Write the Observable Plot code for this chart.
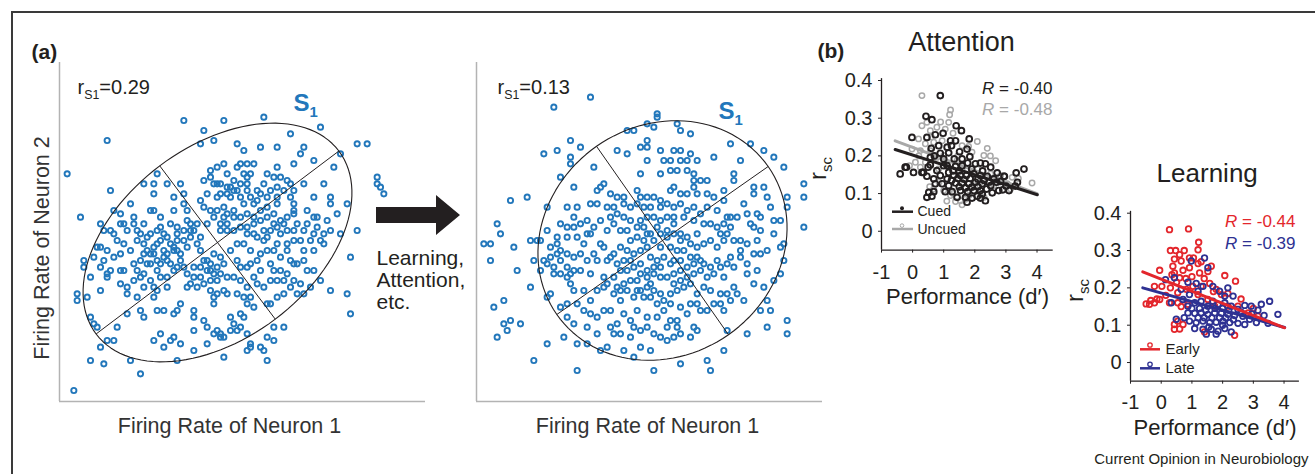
<!DOCTYPE html>
<html><head><meta charset="utf-8">
<script src="https://cdn.jsdelivr.net/npm/d3@7"></script>
<script src="https://cdn.jsdelivr.net/npm/@observablehq/plot@0.6"></script>
<style>
html,body{margin:0;padding:0;background:#fff;}
#fig{position:relative;width:1315px;height:474px;overflow:hidden;background:#fff;}
#fig svg{position:absolute;left:0;top:0;overflow:visible;}
#frame{position:absolute;left:11px;top:11px;width:1400px;height:600px;border-top:2px solid #3a3a3a;border-left:2px solid #3a3a3a;}
</style></head><body><div id="fig"><div id="frame"></div></div>
<script>
const INK = "#231f20";
const BLUE = "#2277bb";
const GRAY = "#a8a8a8";
const RED = "#e3262c";
const NAVY = "#2e3192";
const FONT = "'Liberation Sans', Arial, Helvetica, sans-serif";

// ---- Panel (a): firing rates of neuron 1 / neuron 2 (arbitrary units)
const beforeRates = [[55,93],[67,93],[79,94],[61,90],[96,91],[32,87],[60,86],[64,87],[87,89],[107,86],[110,86],[20,77],[113,76],[113,74],[114,73],[115,71],[24,64],[107,60],[102,59],[105,52],[104,41],[105,35],[99,42],[96,45],[23,41],[26,40],[23,39],[27,34],[28,32],[29,31],[30,25],[27,21],[31,20],[39,21],[42,17],[22,12],[32,27],[34,27],[53,21],[58,24],[67,22],[74,24],[75,25],[75,26],[78,25],[79,24],[80,21],[82,27],[85,31],[82,31],[80,28],[74,29],
[47,77],[43,74],[46,74],[50,74],[46,71],[54,74],[55,71],[33,72],[39,68],[52,70],[55,68],[34,66],[36,65],[45,66],[46,66],[48,64],[52,66],[56,66],[30,62],[36,62],[37,62],[40,64],[40,62],[45,59],[48,61],[51,62],[53,61],[56,63],[31,60],[33,60],[34,59],[41,60],[42,59],[49,59],[53,59],[57,60],[58,60],[29,55],[30,55],[32,54],[37,56],[41,57],[43,56],[47,56],[49,54],[52,55],[55,57],[57,58],[25,51],[25,49],[30,49],[32,47],[33,48],[36,48],[37,48],[41,48],[44,50],[45,53],[46,53],[49,52],[50,53],[52,54],[54,53],[56,55],[27,46],[30,42],[32,46],[36,44],[38,43],[40,45],[42,46],[43,47],[45,45],[47,48],[48,46],[50,46],[52,48],[53,49],[55,49],[58,49],[60,49],[62,51],[63,48],[38,41],[41,40],[43,43],[46,43],[47,42],[50,43],[56,43],[59,43],[63,45],[65,45],[38,35],[42,36],[43,34],[46,40],[47,36],[49,36],[52,35],[53,36],[54,38],[58,36],[58,34],[58,30],[61,33],[62,31],[64,38],[65,30],[66,29],[69,34],[70,32],[67,28],[66,28],[69,30],[72,35],[73,34],[74,38],[75,40],[76,37],[74,43],[73,40],[71,41],[68,41],[67,42],[65,41],[64,40],[63,42],[35,31],[46,27],[48,29],[49,25],[51,27],[52,28],[54,26],[62,26],[64,29],[71,30],[72,31],
[71,86],[73,84],[78,85],[83,85],[91,85],[90,83],[88,80],[94,81],[100,79],[102,83],[72,80],[74,80],[76,80],[83,79],[80,77],[75,77],[74,76],[73,77],[70,75],[71,79],[74,74],[72,74],[68,77],[67,80],[65,79],[63,78],[61,75],[63,76],[64,74],[65,74],[66,74],[69,73],[68,71],[69,70],[71,72],[73,68],[77,69],[77,72],[76,68],[80,70],[83,73],[86,75],[87,74],[88,72],[91,74],[97,74],[94,70],[99,70],[99,68],[104,68],[101,65],[94,64],[95,64],[92,66],[88,66],[88,65],[88,68],[87,70],[83,70],[83,68],[82,65],[80,64],[78,63],[76,62],[74,61],[70,64],[68,65],[67,67],[65,70],[62,71],[60,69],[61,67],[64,64],[67,64],[66,60],[68,60],[70,60],[72,61],[74,59],[76,59],[77,58],[79,57],[80,58],[81,60],[84,59],[86,60],[88,60],[89,62],[91,60],[94,59],[96,57],[97,59],[99,60],[93,57],[94,54],[91,54],[89,50],[87,51],[86,56],[83,56],[82,54],[80,54],[78,53],[77,51],[75,50],[74,49],[72,49],[71,51],[69,54],[71,56],[73,56],[75,54],[81,50],[82,48],[84,48],[83,45],[85,45],[81,45],[88,50],[91,51],[92,48],[94,48],[93,43],[91,41],[89,41],[87,43],[85,41],[83,40],[81,38],[80,38],[98,63],[97,56],[95,61],
[53,54],[54,51],[51,50],[47,51],[42,51],[40,50],[44,58],[47,60],[59,56],[60,54],[61,51],[62,48],[64,47],[66,47],[68,46],[70,46],[72,45],
[48,57],[50,58],[51,56],[53,57],[46,55],[44,54],[55,60],[57,62],[59,62],[60,58],[50,51],[48,50],[45,50],[43,53],[39,54],[36,53],[34,52],[31,51],[28,52],[35,57],[38,60],[43,62],[56,47],[58,46],[60,46],[57,44],[61,44],[63,50],[65,49],[67,50],[66,52],[64,53],
[66,71],[68,73],[70,72],[72,70],[74,72],[75,70],[78,71],[79,74],[81,72],[82,76],[84,76],[85,72],[78,66],[80,67],[82,62],[84,63],[86,64],[74,65],[72,64],[70,66],[76,64],[79,60],[83,61],[85,62],[68,62],[66,62],[62,62],[63,66],[65,66],[88,57],[90,57],[92,62],[86,54],[84,52],[78,48],[76,46],[86,47],[88,45],[90,44],[79,43],[77,44]];

const afterRates = [[45,109],[34,106],[65,104],[65,103],[56,99],[58,99],[62,101],[64,100],[71,101],[72,99],[75,98],[62,96],[39,96],[35,93],[31,92],[42,94],[39,91],[39,89],[46,88],[36,85],[40,82],[21,78],[26,79],[17,71],[18,68],[13,65],[15,65],[22,64],[15,60],[23,57],[27,52],[19,48],[16,46],[21,42],[19,41],[20,39],[24,41],[17,37],[28,30],[32,35],[37,37],[41,35],[44,35],[41,27],[64,27],[72,29],[80,30],[81,27],[85,33],[86,39],[92,38],[98,40],[99,45],[104,42],[104,38],[96,45],[109,83],[109,79],[109,70],[87,95],[93,95],[97,93],[100,91],[103,88],[90,90],[82,91],[104,79],[104,76],[103,65],[102,64],[100,54],[102,56],[103,60],[100,68],[102,72],
[53,93],[56,92],[60,94],[62,94],[66,93],[70,93],[72,93],[75,92],[67,90],[69,90],[72,90],[74,90],[77,90],[60,86],[62,90],[66,86],[69,87],[71,87],[74,87],[76,86],[76,84],[78,84],[80,84],[88,86],[88,84],[94,82],[97,82],[94,80],[98,79],[91,77],[99,76],[95,74],[92,74],[87,73],[85,78],[85,81],[82,79],[80,80],[77,80],[76,82],[74,80],[72,80],[70,82],[69,81],[66,78],[64,79],[62,79],[60,79],[59,81],[55,79],[53,79],[51,80],[49,83],[48,82],[47,81],[45,77],[47,77],[50,76],[52,76],[55,77],[57,76],[59,77],[61,76],[63,76],[66,76],[68,77],[70,76],[72,77],[74,75],[76,76],[80,76],[83,75],[86,73],[89,73],[93,71],[96,73],[100,72],[38,76],[41,76],[40,73],[32,76],[44,68],[45,68],[43,65],[41,67],[38,67],[35,67],[35,65],[33,64],[30,66],[27,66],[29,66],[32,69],[31,60],[32,59],[33,61],[35,62],[36,63],[36,60],[38,58],[39,56],[40,57],[42,57],[45,56],[47,60],[50,60],[48,65],[50,69],[52,71],[54,69],[56,69],[59,70],[61,70],[62,68],[65,70],[68,69],[70,71],[72,68],[74,67],[77,68],[79,71],[81,71],[83,70],[85,71],[87,70],[90,66],[88,66],[87,61],[90,61],[92,59],[94,62],[96,62],[98,63],[95,57],[92,56],[88,58],[86,59],[84,58],[81,58],[79,59],[77,61],[75,61],[73,63],[71,63],[69,64],[66,64],[64,66],[62,64],[60,63],[58,62],[56,63],[54,64],[52,62],[51,61],[49,64],[49,55],[50,53],[52,55],[54,57],[56,57],[58,58],[60,59],[62,57],[64,58],[66,58],[68,55],[70,56],[72,57],[74,58],[76,56],[78,57],[80,55],[82,56],[85,55],[88,52],[91,48],[97,52],[94,53],[98,48],[86,50],[84,50],[81,51],[79,52],[77,50],[75,53],[73,52],[71,51],[69,50],[66,50],[64,51],[62,52],[60,51],[58,49],[56,51],[54,51],[52,50],[49,52],[47,51],[45,48],[43,51],[40,51],[39,53],[38,55],[33,50],[32,49],[38,43],[40,41],[44,40],[47,38],[47,43],[49,45],[51,45],[54,48],[55,44],[57,42],[59,45],[62,43],[65,43],[67,45],[68,40],[69,42],[71,42],[71,40],[74,44],[76,40],[77,47],[80,45],[85,45],[52,38],[54,38],[57,37],[63,33],[53,41],[51,40],[75,37],[77,39],[63,61],[65,60],[64,56],[62,55],[60,56],[59,54],[63,53],[66,55],[70,60],[72,60],[74,55],
[57,66],[59,67],[61,66],[63,68],[66,68],[68,67],[70,68],[72,66],[75,65],[77,64],[79,65],[81,66],[83,64],[85,66],[86,68],[84,68],[60,72],[62,73],[64,73],[66,72],[68,73],[70,73],[73,73],[76,72],[78,74],[55,73],[57,72],[53,74],[51,73],[48,72],[46,70],[44,72],[42,71],[40,70],[38,70],[36,71],[55,60],[53,59],[57,60],[67,61],[69,59],[76,59],[78,60],[83,60],[90,63],[92,65],[95,66],[94,70],[96,69],[57,54],[55,53],[53,52],[59,51],[61,49],[63,49],[65,47],[67,48],[69,47],[72,46],[75,47],[78,45],[82,47],[84,47],[87,48],[89,50],[70,53],[72,54],[46,62],[44,60],[42,62],[40,61],[38,62],[36,56],[34,56],[34,58],[30,57],[28,60],[45,44],[43,45],[41,47],[38,47],[36,46],[58,40],[60,39],[62,40],[64,38],[66,37],[68,36],[70,37],[72,38],[60,34],[58,31],[55,33],[50,34],[48,33]];

// principal-axis ellipses (center, semi-axes, tilt in degrees)
const beforeShape = {cx: 65.1, cy: 56.4, a: 45.6, b: 28.8, angle: 37};
const afterShape  = {cx: 66.6, cy: 66.0, a: 38.7, b: 34.5, angle: 35};
const rS1 = ["0.29", "0.13"];

// ---- Panel (b): r_sc vs performance (d')
const dTicks = [-1, 0, 1, 2, 3, 4];
const rTicks = [0, 0.1, 0.2, 0.3, 0.4];
const attnCued = [[0.89,0.36],[0.43,0.305],[0.62,0.296],[1.40,0.28],[-0.02,0.249],[0.46,0.249],[0.73,0.256],[0.98,0.26],[1.22,0.24],[1.57,0.267],[1.82,0.245],[1.25,0.227],[0.89,0.207],[1.16,0.208],[1.51,0.211],[1.75,0.218],[1.84,0.198],[1.59,0.192],[1.34,0.192],[0.57,0.196],[-0.24,0.17],[-0.40,0.152],[0.03,0.156],[0.30,0.156],[0.57,0.176],[0.78,0.161],[1.0,0.174],[1.16,0.156],[1.38,0.172],[1.59,0.174],[1.77,0.181],[2.02,0.179],[2.18,0.181],[2.34,0.179],[2.51,0.17],[2.72,0.155],[2.94,0.146],[3.33,0.155],[3.58,0.165],[3.37,0.13],[3.1,0.108],[0.46,0.146],[0.68,0.139],[0.89,0.148],[1.11,0.139],[1.32,0.148],[1.54,0.148],[1.73,0.148],[1.97,0.152],[2.18,0.148],[2.40,0.146],[2.61,0.139],[2.83,0.132],[0.73,0.126],[0.95,0.126],[1.16,0.121],[1.38,0.128],[1.59,0.128],[1.81,0.126],[2.02,0.13],[2.24,0.126],[2.51,0.121],[2.77,0.108],[0.52,0.103],[0.68,0.105],[0.46,0.09],[0.62,0.093],[1.05,0.105],[1.27,0.105],[1.54,0.108],[1.77,0.105],[1.97,0.108],[2.18,0.108],[2.38,0.112],[2.56,0.102],[1.43,0.09],[1.70,0.09],[1.91,0.088],[2.18,0.088],[2.34,0.081],[1.75,0.077],[2.08,0.093],[2.24,0.099],[1.11,0.174],[1.0,0.192],[1.11,0.223],[1.38,0.24],[0.84,0.227],[0.35,0.156],[-0.2,0.17],[2.95,0.146],
[1.25,0.135],[1.45,0.14],[1.65,0.138],[1.85,0.14],[2.1,0.138],[2.3,0.135],[1.5,0.118],[1.7,0.115],[1.9,0.117],[2.1,0.118],[2.45,0.13],[1.3,0.16],[1.5,0.16],[1.9,0.165],[2.25,0.16],[0.6,0.22],[0.7,0.2],[0.5,0.17],[3.0,0.12],[3.3,0.12],[2.7,0.13],[2.9,0.11]];
const attnUncued = [[0.30,0.36],[1.22,0.322],[1.19,0.309],[0.46,0.289],[0.30,0.28],[0.57,0.267],[0.78,0.276],[1.05,0.271],[0.19,0.245],[0.41,0.232],[0.68,0.236],[0.95,0.24],[0.25,0.214],[-0.02,0.218],[1.59,0.227],[2.08,0.238],[2.40,0.22],[1.91,0.21],[0.78,0.196],[0.09,0.183],[-0.1,0.174],[0.41,0.183],[1.0,0.201],[2.29,0.201],[2.67,0.187],[0.68,0.112],[1.0,0.108],[1.22,0.095],[1.38,0.079],[1.54,0.081],[1.59,0.07],[1.81,0.095],[3.04,0.126],[3.84,0.128],[3.15,0.112],[0.25,0.17],[1.75,0.161],[2.08,0.165],[2.51,0.152],[2.83,0.148],[2.18,0.13],[2.61,0.121],[1.22,0.176],[0.84,0.165],[1.43,0.187],[0.57,0.214],[1.16,0.289],[0.55,0.118],[1.3,0.1],[2.0,0.12],[3.2,0.143],[1.7,0.085],[2.3,0.09],
[0.6,0.25],[0.9,0.29],[1.3,0.26],[1.8,0.225],[0.2,0.2],[1.45,0.2],[2.5,0.2],[3.4,0.14],[0.85,0.13],[1.1,0.08]];
const attnFitCued = [[-0.56,0.217],[4.01,0.097]];
const attnFitUncued = [[-0.56,0.240],[4.0,0.100]];
const attnR = ["-0.40", "-0.48"];

const learnEarly = [[0.27,0.356],[0.89,0.358],[1.22,0.322],[1.2,0.302],[0.30,0.30],[0.47,0.30],[0.60,0.289],[0.43,0.277],[0.65,0.272],[0.92,0.28],[-0.05,0.247],[0.38,0.258],[0.43,0.24],[0.71,0.247],[0.92,0.254],[1.2,0.265],[1.52,0.244],[1.25,0.24],[2.07,0.233],[2.42,0.218],[1.63,0.258],[0.6,0.227],[-0.22,0.204],[-0.38,0.156],[-0.22,0.16],[-0.05,0.169],[0.54,0.187],[0.82,0.196],[1.03,0.204],[1.30,0.204],[1.58,0.212],[1.79,0.196],[1.96,0.182],[2.17,0.185],[1.2,0.182],[0.54,0.16],[0.27,0.16],[0.43,0.102],[0.54,0.111],[0.43,0.089],[0.6,0.09],[0.71,0.102],[1.41,0.082],[2.39,0.073],[2.17,0.151],[2.5,0.151],[2.83,0.133],[3.15,0.124],[1.74,0.151],[1.52,0.169],[0.87,0.156],[-0.49,0.157],[-0.34,0.166],[-0.14,0.17],[0.02,0.204],
[0.8,0.225],[1.0,0.23],[1.4,0.225],[0.3,0.2],[0.15,0.18],[0.65,0.15],[1.05,0.28],[0.75,0.3],[1.3,0.27],[1.7,0.19],[2.6,0.17],[3.0,0.145],[0.5,0.215],[0.35,0.235]];
const learnLate = [[1.41,0.28],[0.98,0.272],[1.52,0.254],[0.87,0.215],[1.14,0.212],[1.36,0.204],[0.43,0.227],[0.14,0.222],[1.2,0.191],[1.68,0.204],[1.9,0.191],[2.17,0.2],[2.07,0.178],[2.34,0.178],[0.33,0.16],[0.71,0.169],[0.92,0.182],[1.09,0.16],[0.87,0.151],[1.30,0.164],[1.52,0.151],[1.68,0.164],[1.85,0.156],[2.07,0.16],[2.28,0.151],[2.5,0.142],[2.72,0.153],[2.93,0.151],[3.26,0.156],[3.53,0.164],[3.35,0.126],[3.8,0.129],[3.1,0.107],[3.48,0.105],[0.87,0.133],[1.09,0.132],[1.3,0.133],[1.52,0.129],[1.74,0.133],[1.96,0.132],[2.17,0.129],[2.39,0.126],[2.66,0.124],[2.88,0.116],[0.92,0.111],[1.14,0.107],[1.36,0.111],[1.58,0.107],[1.79,0.108],[2.01,0.111],[2.23,0.107],[2.5,0.105],[2.72,0.102],[1.09,0.091],[1.36,0.089],[1.63,0.089],[1.85,0.084],[2.07,0.091],[2.28,0.082],[1.47,0.076],[1.79,0.076],[0.65,0.196],[0.49,0.116],
[1.2,0.12],[1.4,0.12],[1.65,0.12],[1.9,0.12],[2.1,0.12],[2.35,0.115],[1.25,0.145],[1.45,0.14],[1.75,0.145],[2.0,0.145],[2.2,0.14],[2.6,0.135],[0.75,0.12],[1.0,0.145],[2.95,0.13],[3.15,0.14],[1.55,0.095],[2.0,0.1]];
const learnFitEarly = [[-0.6,0.243],[4.02,0.093]];
const learnFitLate = [[-0.6,0.200],[4.02,0.094]];
const learnR = ["-0.44", "-0.39"];

// ---------- helpers
const W = 1315, H = 474;
const STYLE = `background: transparent; font-family: ${FONT}; overflow: visible;`;
function label(f, s, px, py, o = {}) {
  return Plot.text([s], {text: d => d, frameAnchor: "top-left", dx: px - f.l, dy: py - f.t,
    lineAnchor: "bottom", textAnchor: "start", fill: INK, fontSize: 20, ...o});
}
function ellipsePath(s) {
  const th = s.angle * Math.PI / 180;
  return d3.range(0, 361, 3).map(deg => {
    const t = deg * Math.PI / 180;
    return [s.cx + s.a * Math.cos(t) * Math.cos(th) - s.b * Math.sin(t) * Math.sin(th),
            s.cy + s.a * Math.cos(t) * Math.sin(th) + s.b * Math.sin(t) * Math.cos(th)];
  });
}
function ellipseAxes(s) {
  const th = s.angle * Math.PI / 180, c = Math.cos(th), n = Math.sin(th);
  return [{x1: s.cx - s.a * c, y1: s.cy - s.a * n, x2: s.cx + s.a * c, y2: s.cy + s.a * n},
          {x1: s.cx + s.b * n, y1: s.cy - s.b * c, x2: s.cx - s.b * n, y2: s.cy + s.b * c}];
}
function rich(svg) {
  d3.select(svg).selectAll("text").each(function () {
    const s = this.textContent;
    if (!/_\{|~/.test(s)) return;
    const el = d3.select(this); el.text(null);
    let shift = 0;
    for (const p of s.split(/(_\{[^}]*\}|~[^~]*~)/).filter(p => p)) {
      const ts = el.append("tspan");
      if (p.startsWith("_{")) { ts.attr("font-size", "0.62em").attr("dy", "0.42em").text(p.slice(2, -1)); shift = 0.42 * 0.62; }
      else {
        if (shift) { ts.attr("dy", (-shift) + "em"); shift = 0; }
        if (p.startsWith("~")) ts.attr("font-style", "italic").text(p.slice(1, -1)); else ts.text(p);
      }
    }
  });
}
const fig = document.getElementById("fig");
function add(svg) { rich(svg); fig.appendChild(svg); return svg; }

// ---------- Panel (a) left
const fA = {l: 59, t: 62, r: 425, b: 401};
const xA = [17.7, 17.7 + (fA.r - fA.l) * 0.3], yA = [8.7, 110.4];
const svgA = add(Plot.plot({
  width: W, height: H, marginLeft: fA.l, marginTop: fA.t, marginRight: W - fA.r, marginBottom: H - fA.b,
  x: {domain: xA, axis: null}, y: {domain: yA, axis: null}, style: STYLE,
  marks: [
    Plot.ruleX([xA[0]], {stroke: "#b3b3b3", strokeWidth: 1.5}),
    Plot.ruleY([yA[0]], {stroke: "#b3b3b3", strokeWidth: 1.5}),
    Plot.dot(beforeRates, {x: d => d[0], y: d => d[1], r: 2.6, stroke: BLUE, strokeWidth: 1.9}),
    Plot.line(ellipsePath(beforeShape), {x: d => d[0], y: d => d[1], stroke: INK, strokeWidth: 1.1}),
    Plot.link(ellipseAxes(beforeShape), {x1: "x1", y1: "y1", x2: "x2", y2: "y2", stroke: INK, strokeWidth: 1}),
    label(fA, "(a)", 31, 58, {fontSize: 21, fontWeight: "bold"}),
    label(fA, "r_{S1}=" + rS1[0], 77, 93, {fontSize: 20}),
    label(fA, "S_{1}", 293, 110, {fontSize: 24, fontWeight: "bold", fill: BLUE}),
    label(fA, "Firing Rate of Neuron 2", 42, 247.5, {fontSize: 21.5, rotate: -90, textAnchor: "middle", lineAnchor: "middle", fill: "#333"}),
    label(fA, "Firing Rate of Neuron 1", 229, 432, {fontSize: 21.5, textAnchor: "middle", fill: "#333"}),
    label(fA, "Learning,", 376, 264, {fontSize: 21}),
    label(fA, "Attention,", 376, 286, {fontSize: 21}),
    label(fA, "etc.", 376, 308, {fontSize: 21}),
    label(fA, "(b)", 817, 57, {fontSize: 21, fontWeight: "bold"}),
    label(fA, "Current Opinion in Neurobiology", 1308, 463, {fontSize: 15, textAnchor: "end"})
  ]
}));
d3.select(svgA).append("polygon")
  .attr("points", "376,207 436,207 436,195 460,215 436,235 436,223 376,223").attr("fill", INK);

// ---------- Panel (a) right
const fB = {l: 476, t: 62, r: 822, b: 401};
const xB = [10.8, 10.8 + (fB.r - fB.l) * 0.3], yB = [17.7, 119.4];
add(Plot.plot({
  width: W, height: H, marginLeft: fB.l, marginTop: fB.t, marginRight: W - fB.r, marginBottom: H - fB.b,
  x: {domain: xB, axis: null}, y: {domain: yB, axis: null}, style: STYLE,
  marks: [
    Plot.ruleX([xB[0]], {stroke: "#b3b3b3", strokeWidth: 1.5}),
    Plot.ruleY([yB[0]], {stroke: "#b3b3b3", strokeWidth: 1.5}),
    Plot.dot(afterRates, {x: d => d[0], y: d => d[1], r: 2.6, stroke: BLUE, strokeWidth: 1.9}),
    Plot.line(ellipsePath(afterShape), {x: d => d[0], y: d => d[1], stroke: INK, strokeWidth: 1.1}),
    Plot.link(ellipseAxes(afterShape), {x1: "x1", y1: "y1", x2: "x2", y2: "y2", stroke: INK, strokeWidth: 1}),
    label(fB, "r_{S1}=" + rS1[1], 497, 93, {fontSize: 20}),
    label(fB, "S_{1}", 718, 118, {fontSize: 24, fontWeight: "bold", fill: BLUE}),
    label(fB, "Firing Rate of Neuron 1", 647, 432, {fontSize: 21.5, textAnchor: "middle", fill: "#333"})
  ]
}));

// ---------- Panel (b) Attention
const fC = {l: 881, t: 80, r: 1052.7, b: 249.6};
const svgC = add(Plot.plot({
  width: W, height: H, marginLeft: fC.l, marginTop: fC.t, marginRight: W - fC.r, marginBottom: H - fC.b,
  x: {domain: [-1, 4.52]}, y: {domain: [-0.05, 0.4]}, style: STYLE,
  marks: [
    Plot.ruleX([-1], {y1: -0.05, y2: 0.405, stroke: INK, strokeWidth: 1.3}),
    Plot.ruleY([-0.05], {x1: -1, x2: 4.52, stroke: INK, strokeWidth: 1.3}),
    Plot.axisX({ticks: dTicks, tickSize: 3, tickPadding: 12, tickFormat: d => String(d), fontSize: 20, color: INK, label: null}),
    Plot.axisY({ticks: rTicks, tickSize: 3, tickPadding: 6, tickFormat: d => String(d), fontSize: 20, color: INK, label: null}),
    Plot.dot(attnUncued, {x: d => d[0], y: d => d[1], r: 2.7, stroke: GRAY, strokeWidth: 1.5}),
    Plot.line(attnFitUncued, {x: d => d[0], y: d => d[1], stroke: GRAY, strokeWidth: 3}),
    Plot.dot(attnCued, {x: d => d[0], y: d => d[1], r: 2.9, stroke: INK, strokeWidth: 1.9}),
    Plot.line(attnFitCued, {x: d => d[0], y: d => d[1], stroke: INK, strokeWidth: 3}),
    label(fC, "Attention", 961, 50, {fontSize: 27, textAnchor: "middle"}),
    label(fC, "~R~ = " + attnR[0], 1052, 93.3, {fontSize: 17, textAnchor: "end"}),
    label(fC, "~R~ = " + attnR[1], 1052, 114.3, {fontSize: 17, textAnchor: "end", fill: GRAY}),
    label(fC, "r_{sc}", 825, 168, {fontSize: 24, rotate: -90, textAnchor: "middle"}),
    label(fC, "Performance (d\u2032)", 967, 303, {fontSize: 22, textAnchor: "middle"}),
    label(fC, "Cued", 917, 215.5, {fontSize: 14}),
    label(fC, "Uncued", 917, 233, {fontSize: 14})
  ]
}));
const gC = d3.select(svgC).append("g");
gC.append("line").attr("x1", 892).attr("x2", 913).attr("y1", 211.7).attr("y2", 211.7).attr("stroke", INK).attr("stroke-width", 2.5);
gC.append("circle").attr("cx", 902).attr("cy", 208.3).attr("r", 2).attr("fill", INK);
gC.append("line").attr("x1", 892).attr("x2", 913).attr("y1", 229).attr("y2", 229).attr("stroke", GRAY).attr("stroke-width", 2.5);
gC.append("circle").attr("cx", 902).attr("cy", 225.6).attr("r", 1.8).attr("fill", "none").attr("stroke", GRAY).attr("stroke-width", 1);

// ---------- Panel (b) Learning
const fD = {l: 1130, t: 212.7, r: 1298.9, b: 380.7};
const svgD = add(Plot.plot({
  width: W, height: H, marginLeft: fD.l, marginTop: fD.t, marginRight: W - fD.r, marginBottom: H - fD.b,
  x: {domain: [-1, 4.5]}, y: {domain: [-0.05, 0.4]}, style: STYLE,
  marks: [
    Plot.ruleX([-1], {y1: -0.05, y2: 0.405, stroke: INK, strokeWidth: 1.3}),
    Plot.ruleY([-0.05], {x1: -1, x2: 4.5, stroke: INK, strokeWidth: 1.3}),
    Plot.axisX({ticks: dTicks, tickSize: 3, tickPadding: 11, tickFormat: d => String(d), fontSize: 20, color: INK, label: null}),
    Plot.axisY({ticks: rTicks, tickSize: 3, tickPadding: 6, tickFormat: d => String(d), fontSize: 20, color: INK, label: null}),
    Plot.dot(learnEarly, {x: d => d[0], y: d => d[1], r: 2.8, stroke: RED, strokeWidth: 1.8}),
    Plot.dot(learnLate, {x: d => d[0], y: d => d[1], r: 2.8, stroke: NAVY, strokeWidth: 1.8}),
    Plot.line(learnFitLate, {x: d => d[0], y: d => d[1], stroke: NAVY, strokeWidth: 3}),
    Plot.line(learnFitEarly, {x: d => d[0], y: d => d[1], stroke: RED, strokeWidth: 3}),
    label(fD, "Learning", 1206.7, 181.7, {fontSize: 26, textAnchor: "middle"}),
    label(fD, "~R~ = " + learnR[0], 1295, 226.7, {fontSize: 17, textAnchor: "end", fill: RED}),
    label(fD, "~R~ = " + learnR[1], 1295, 248.3, {fontSize: 17, textAnchor: "end", fill: NAVY}),
    label(fD, "r_{sc}", 1082, 290, {fontSize: 24, rotate: -90, textAnchor: "middle"}),
    label(fD, "Performance (d\u2032)", 1214.5, 434, {fontSize: 22, textAnchor: "middle"}),
    label(fD, "Early", 1165, 353.5, {fontSize: 15}),
    label(fD, "Late", 1165, 372.5, {fontSize: 15})
  ]
}));
const gD = d3.select(svgD).append("g");
gD.append("line").attr("x1", 1140).attr("x2", 1160).attr("y1", 349.3).attr("y2", 349.3).attr("stroke", RED).attr("stroke-width", 2.5);
gD.append("circle").attr("cx", 1150).attr("cy", 345).attr("r", 2.2).attr("fill", "none").attr("stroke", RED).attr("stroke-width", 1.3);
gD.append("line").attr("x1", 1140).attr("x2", 1160).attr("y1", 368.3).attr("y2", 368.3).attr("stroke", NAVY).attr("stroke-width", 2.5);
gD.append("circle").attr("cx", 1150).attr("cy", 364.3).attr("r", 2.2).attr("fill", "none").attr("stroke", NAVY).attr("stroke-width", 1.3);
</script></body></html>
